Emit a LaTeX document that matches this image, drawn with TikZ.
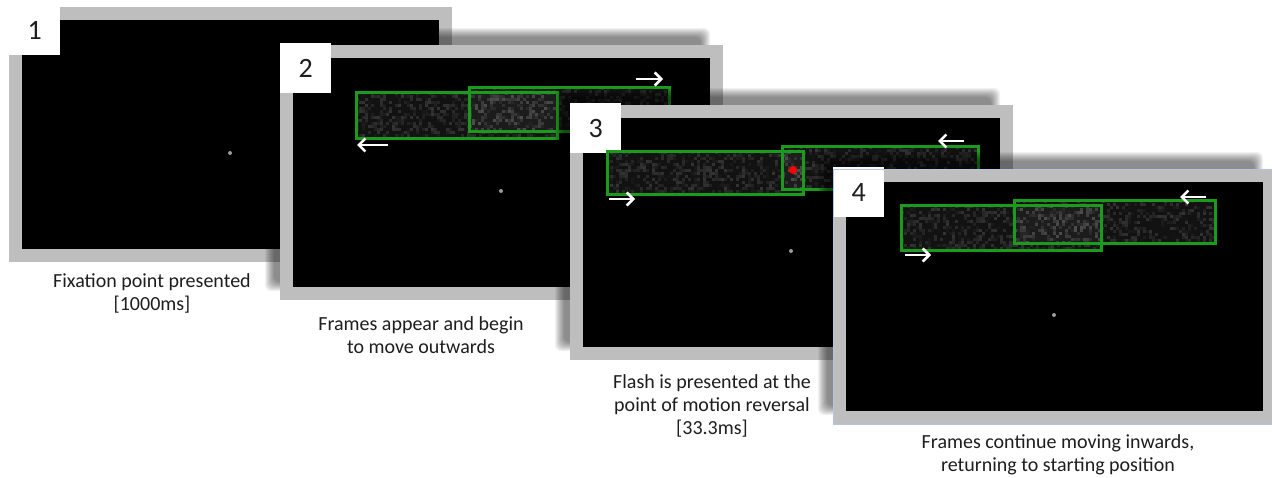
\documentclass[tikz,border=0pt]{standalone}
\usepackage{fontspec}
\setmainfont{Carlito}
\usetikzlibrary{arrows.meta}

\definecolor{bezel}{HTML}{BEBEBE}
\definecolor{framegreen}{HTML}{1B9B1B}
\definecolor{fixgray}{HTML}{9A9A9A}
\definecolor{captext}{HTML}{1E1E1E}
\definecolor{edgeblue}{HTML}{B0C6E4}
\definecolor{flashred}{HTML}{FF0000}

\tikzset{
  numbox/.style={fill=white, minimum width=51pt, minimum height=50pt, inner sep=0pt,
    font=\fontsize{28}{30}\selectfont, text=captext},
  capline/.style={anchor=base, inner sep=0pt, font=\fontsize{20}{24}\selectfont, text=captext},
  greenframe/.style={draw=framegreen, line width=3pt},
  motion/.style={draw=white, line width=2.5pt, -{Straight Barb[length=6.5pt,width=13pt]}},
}

% soft shadow behind a monitor whose bezel starts at (#1,#2)
\newcommand\monitorshadow[2]{%
  \foreach \k in {-5,...,4}{%
    \fill[black, opacity=0.055, rounded corners=6pt]
      ({#1-11-\k},{#2-13-\k}) rectangle ({#1+426+\k},{#2+242+\k});
  }%
}

% grey bezel, black screen, fixation point and numbered tab
\newcommand\monitor[3]{%
  \fill[bezel] (#1,#2) rectangle ++(443,255);
  \fill[black] ({#1+13},{#2+13}) rectangle ({#1+430},{#2+242});
  \fill[fixgray] ({#1+221},{#2+146}) circle (2);
  \node[numbox, anchor=north west] (num#3) at ({#1},{#2-2}) {#3};
}

% random grey grain inside a rectangle (#1,#2)-(#3,#4);
% #5 = base grey level, #6 = spread of the lighter specks
\newcommand\grain[6]{%
  \begin{scope}
    \clip (#1,#2) rectangle (#3,#4);
    \fill[white!#5!black] (#1,#2) rectangle (#3,#4);
    \pgfmathtruncatemacro\grcols{(#3-#1)/3}%
    \pgfmathtruncatemacro\grrows{(#4-#2)/3}%
    \foreach \i in {0,...,\grcols}{%
      \foreach \j in {0,...,\grrows}{%
        \pgfmathsetmacro\grr{rnd}%
        \ifdim\grr pt>0.5pt
          \pgfmathtruncatemacro\grlev{#5+#6*(\grr-0.5)*2}%
          \fill[white!\grlev!black] ({#1+3*\i},{#2+3*\j}) rectangle ++(3,3);
        \fi
      }%
    }%
  \end{scope}
}

\begin{document}
\begin{tikzpicture}[x=1pt, y=-1pt]
\pgfmathsetseed{4711}
\useasboundingbox[fill=white] (0,0) rectangle (1272,477);

% ---------- display 1: fixation ----------
\monitor{9}{7}{1}

% ---------- display 2: frames move outwards ----------
\monitorshadow{280}{45}
\monitor{280}{45}{2}
\grain{356}{92}{557}{138}{7}{14}
\grain{469}{87}{669}{131}{7}{14}
\grain{469}{92}{557}{131}{11}{20}
\draw[greenframe] (356,92) rectangle (557,138);
\draw[greenframe] (469,87) rectangle (669,131);
\coordinate (m2a) at (636,79);  \coordinate (m2b) at (663,79);
\coordinate (m2c) at (388,145); \coordinate (m2d) at (357,145);
\draw[motion] (m2a) -- (m2b);
\draw[motion] (m2c) -- (m2d);

% ---------- display 3: flash at motion reversal ----------
\monitorshadow{570}{105}
\monitor{570}{105}{3}
\grain{607}{151}{803}{194}{7}{14}
\grain{782}{146}{978}{189}{7}{14}
\grain{782}{151}{803}{189}{11}{20}
\draw[greenframe] (607,151) rectangle (803,194);
\draw[greenframe] (782,146) rectangle (978,189);
\fill[flashred] (793,170) circle (4);
\coordinate (m3a) at (964,141); \coordinate (m3b) at (938,141);
\coordinate (m3c) at (609,199); \coordinate (m3d) at (635,199);
\draw[motion] (m3a) -- (m3b);
\draw[motion] (m3c) -- (m3d);

% ---------- display 4: frames move inwards ----------
\monitorshadow{833}{169}
\monitor{833}{169}{4}
\draw[edgeblue, line width=0.8pt] (833,169) rectangle ++(443,255);
\grain{901}{205}{1101}{250}{7}{14}
\grain{1014}{200}{1215}{243}{7}{14}
\grain{1014}{205}{1101}{243}{11}{20}
\draw[greenframe] (901,205) rectangle (1101,250);
\draw[greenframe] (1014,200) rectangle (1215,243);
\coordinate (m4a) at (1206,197); \coordinate (m4b) at (1180,197);
\coordinate (m4c) at (905,255);  \coordinate (m4d) at (931,255);
\draw[motion] (m4a) -- (m4b);
\draw[motion] (m4c) -- (m4d);

% ---------- captions ----------
\node[capline] (cap1a) at (152,287) {Fixation point presented};
\node[capline] (cap1b) at (152,310) {[1000ms]};
\node[capline] (cap2a) at (421,330) {Frames appear and begin};
\node[capline] (cap2b) at (421,353) {to move outwards};
\node[capline] (cap3a) at (712,388) {Flash is presented at the};
\node[capline] (cap3b) at (712,411) {point of motion reversal};
\node[capline] (cap3c) at (712,434) {[33.3ms]};
\node[capline] (cap4a) at (1058,448) {Frames continue moving inwards,};
\node[capline] (cap4b) at (1058,471) {returning to starting position};
\end{tikzpicture}
\end{document}
